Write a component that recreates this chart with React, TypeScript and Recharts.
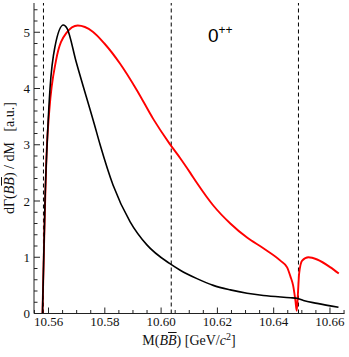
import React from 'react';
import { LineChart, Line, XAxis, YAxis, ReferenceLine } from 'recharts';

// black curve
const blackX = [
  10.55786, 10.55875, 10.55972, 10.56053, 10.56231, 10.56527, 10.56658, 10.56979, 10.5763,
  10.57833, 10.58295, 10.589, 10.59495, 10.60299, 10.6068, 10.61274, 10.61854, 10.62459, 10.63053,
  10.63633, 10.64594, 10.64826, 10.65057, 10.65544, 10.66302,
];
const blackY = [
  0, 2.0, 3.26, 4.0, 4.75, 5.13, 5.07, 4.48, 3.36,
  3.0, 2.28, 1.63, 1.22, 0.89, 0.77, 0.62, 0.5, 0.42, 0.36,
  0.32, 0.28, 0.27, 0.23, 0.18, 0.11,
];

// red curve
const redX = [
  10.55786, 10.55936, 10.56028, 10.56267, 10.56623, 10.57039, 10.57573, 10.57986, 10.58544, 10.59139,
  10.59719, 10.60299, 10.6068, 10.61036, 10.61274, 10.61854, 10.62459, 10.63053, 10.63633, 10.64238,
  10.64477, 10.64594, 10.6469, 10.64772, 10.64819, 10.64861, 10.64904, 10.65011, 10.65235, 10.65544,
  10.66018, 10.66313,
];
const redY = [
  0, 2.9, 3.61, 4.5, 4.98, 5.12, 5.01, 4.8, 4.44, 3.97,
  3.46, 3.02, 2.76, 2.5, 2.32, 1.92, 1.6, 1.35, 1.16, 0.94,
  0.82, 0.66, 0.5, 0.23, 0.05, 0.35, 0.71, 0.94, 1.0, 0.96,
  0.82, 0.71,
];

const thresholds = [10.5582, 10.6036, 10.6488];
const xMajor = [10.56, 10.58, 10.6, 10.62, 10.64, 10.66];
const xLabels = ['10.56', '10.58', '10.60', '10.62', '10.64', '10.66'];
const yMajor = [0, 1, 2, 3, 4, 5];

const xDomain: [number, number] = [10.55484, 10.66516];
const yDomain: [number, number] = [0, 5.52];

const xTicks: number[] = [];
for (let i = 0; i <= 22; i++) xTicks.push(Math.round((10.555 + i * 0.005) * 1000) / 1000);
const yTicks: number[] = [];
for (let i = 0; i <= 27; i++) yTicks.push(Math.round(i * 2) / 10);

const black = blackX.map((x, i) => ({ x, y: blackY[i] }));
const red = redX.map((x, i) => ({ x, y: redY[i] }));

const isMajorX = (v: number) => xMajor.some((m) => Math.abs(m - v) < 1e-6);
const isMajorY = (v: number) => yMajor.some((m) => Math.abs(m - v) < 1e-6);

const frame = '#222';
const serif = '"Liberation Serif", "DejaVu Serif", serif';

const BottomTick = (props: any) => {
  const { x, y, payload } = props;
  const major = isMajorX(payload.value);
  const idx = xMajor.findIndex((m) => Math.abs(m - payload.value) < 1e-6);
  return (
    <g>
      <line x1={x} x2={x} y1={y} y2={y - (major ? 6 : 3.5)} stroke={frame} strokeWidth={1} />
      {major && (
        <text x={x} y={y + 12.5} textAnchor="middle" fontSize={13} fontFamily={serif} fill="#111">
          {xLabels[idx]}
        </text>
      )}
    </g>
  );
};

const TopTick = (props: any) => {
  const { x, y, payload } = props;
  const major = isMajorX(payload.value);
  return <line x1={x} x2={x} y1={y} y2={y + (major ? 6 : 3.5)} stroke={frame} strokeWidth={1} />;
};

const LeftTick = (props: any) => {
  const { x, y, payload } = props;
  const major = isMajorY(payload.value);
  return (
    <g>
      <line x1={x} x2={x + (major ? 6 : 3.5)} y1={y} y2={y} stroke={frame} strokeWidth={1} />
      {major && (
        <text x={x - 4} y={y + 4.5} textAnchor="end" fontSize={13} fontFamily={serif} fill="#111">
          {payload.value}
        </text>
      )}
    </g>
  );
};

const RightTick = (props: any) => {
  const { x, y, payload } = props;
  const major = isMajorY(payload.value);
  return <line x1={x} x2={x - (major ? 6 : 3.5)} y1={y} y2={y} stroke={frame} strokeWidth={1} />;
};

export default function App() {
  return (
    <div style={{ position: 'absolute', left: 0, top: 0, width: 349, height: 357, background: '#fff' }}>
      <LineChart width={349} height={357} margin={{ top: 3, right: 4.5, bottom: 0, left: 0 }}>
        <XAxis
          xAxisId="main"
          dataKey="x"
          type="number"
          domain={xDomain}
          allowDataOverflow
          ticks={xTicks}
          interval={0}
          height={43.5}
          tickSize={0}
          tickMargin={0}
          tickLine={false}
          axisLine={{ stroke: frame }}
          tick={<BottomTick />}
        />
        <XAxis
          xAxisId="top"
          orientation="top"
          dataKey="x"
          type="number"
          domain={xDomain}
          allowDataOverflow
          ticks={xTicks}
          interval={0}
          height={0}
          tickSize={0}
          tickMargin={0}
          tickLine={false}
          axisLine={{ stroke: frame }}
          tick={<TopTick />}
        />
        <YAxis
          yAxisId="main"
          type="number"
          domain={yDomain}
          allowDataOverflow
          ticks={yTicks}
          interval={0}
          width={34}
          tickSize={0}
          tickMargin={0}
          tickLine={false}
          axisLine={{ stroke: frame }}
          tick={<LeftTick />}
        />
        <YAxis
          yAxisId="right"
          orientation="right"
          type="number"
          domain={yDomain}
          allowDataOverflow
          ticks={yTicks}
          interval={0}
          width={0}
          tickSize={0}
          tickMargin={0}
          tickLine={false}
          axisLine={{ stroke: frame }}
          tick={<RightTick />}
        />
        {thresholds.map((t) => (
          <ReferenceLine
            key={t}
            x={t}
            xAxisId="main"
            yAxisId="main"
            stroke="#000"
            strokeWidth={1}
            strokeDasharray="4 3"
          />
        ))}
        <Line
          xAxisId="main"
          yAxisId="main"
          data={red}
          dataKey="y"
          type="monotone"
          stroke="#ff0000"
          strokeWidth={1.9}
          dot={false}
          isAnimationActive={false}
        />
        <Line
          xAxisId="main"
          yAxisId="main"
          data={black}
          dataKey="y"
          type="monotone"
          stroke="#000"
          strokeWidth={1.6}
          dot={false}
          isAnimationActive={false}
        />
      </LineChart>
      <div
        style={{
          position: 'absolute',
          left: 34,
          width: 310,
          top: 333,
          textAlign: 'center',
          fontFamily: serif,
          fontSize: 14,
          color: '#111',
          whiteSpace: 'nowrap',
        }}
      >
        M(<i>B</i>
        <i style={{ textDecoration: 'overline' }}>B</i>) [GeV/<i>c</i>
        <span style={{ fontSize: 10, position: 'relative', top: -5 }}>2</span>]
      </div>
      <div
        style={{
          position: 'absolute',
          left: 10,
          top: 158,
          transform: 'translate(-50%, -50%) rotate(-90deg)',
          fontFamily: serif,
          fontSize: 14,
          color: '#111',
          whiteSpace: 'nowrap',
        }}
      >
        dΓ(<i>B</i>
        <i style={{ textDecoration: 'overline' }}>B</i>) / dM&nbsp;&nbsp; [a.u.]
      </div>
      <div
        style={{
          position: 'absolute',
          left: 208,
          top: 26,
          fontFamily: '"Liberation Sans", Arial, sans-serif',
          fontSize: 19,
          lineHeight: '19px',
          color: '#000',
          whiteSpace: 'nowrap',
        }}
      >
        0<span style={{ fontSize: 12, position: 'relative', top: -8 }}>++</span>
      </div>
    </div>
  );
}
